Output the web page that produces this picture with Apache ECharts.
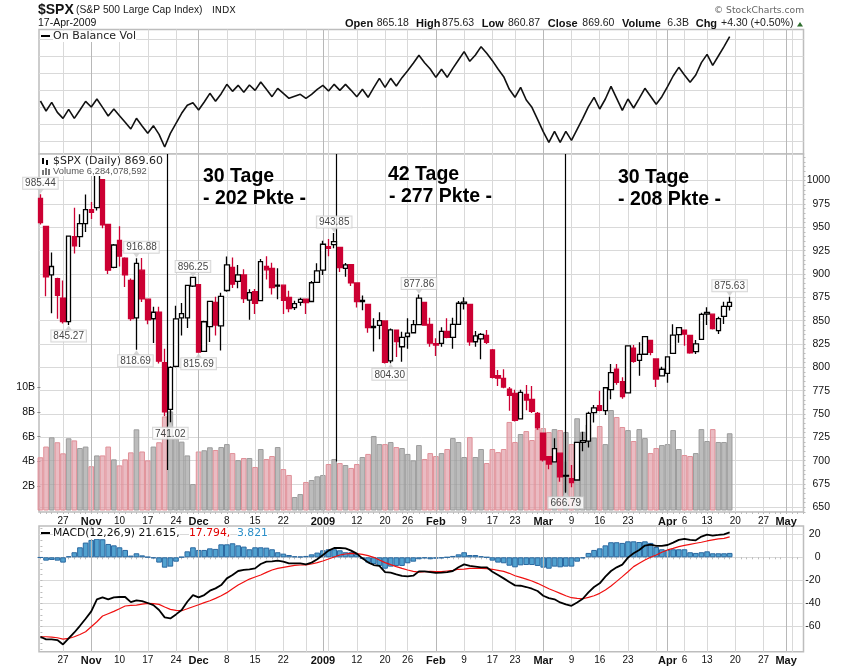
<!DOCTYPE html>
<html><head><meta charset="utf-8">
<script src="https://cdn.jsdelivr.net/npm/echarts@6/dist/echarts.min.js"></script>
<style>html,body{margin:0;padding:0;background:#fff}#c{width:850px;height:668px}</style>
</head><body><div id="c"></div>
<script>
const opens=[981,951,899,895,874,849,940,940,954,969,971,1001,953,907,936,917,893,853,904,873,852,859,805,755,801,853,853,887,888.6,817,843.6,869.5,844.4,882.3,907,892,899,872,881,871.5,908,906,886.9,888,875,864,869.5,873,870.5,891,904,929.2,931.5,928.5,906,909.9,890.4,870.3,867.3,842.6,845,849.6,806.8,839.7,822,833,837,845.7,869.5,846,823.9,825.7,838.5,832,846,868.2,867.5,827.4,830.5,834.3,818.6,791,788,776.5,772,744.7,771,765.5,750.7,729.6,704.4,698.6,708,684.3,680.8,679.3,719.6,721,751.5,759,753.5,776,797.9,784.6,772.6,820.6,807.5,814,828.7,809,790.9,793.6,815,835.1,839.7,834.1,816.8,830,856.9,856.9,839.2,854.6,865.18];
const closes=[955,897,908,877,849,940.5,930,954,969,966,1005.7,952.5,904,931,919,899,852.3,911.3,873.3,850.75,859,806.6,752.4,800,851.8,857.4,887.7,896.24,816.2,848.8,870.7,845.2,876,909.7,889,899,873.6,880,868.6,913.2,904.4,885.3,887.9,871.6,863,868.2,872.8,869.4,890.6,903.3,931.8,927.5,934.7,906.7,909.7,890.4,870.3,871.8,842.6,843.7,850.1,805.2,840.2,827.5,832,836.6,845.7,874.1,845.1,825.9,825.4,838.5,832.2,845.9,868.6,869.9,827.2,833.7,835.2,826.8,789.2,788.4,778.9,770,743.3,773.1,764.9,752.8,735.1,700.8,696.3,712.9,682.6,683.4,676.5,719.6,721.4,750.7,756.6,753.9,778.1,794.4,784,768.5,822.9,806.3,813.9,832.9,815.9,787.5,797.9,811.1,834.4,842.5,835.5,815.6,825.2,856.6,858.7,841.5,852.1,865.3,869.6];
const lows=[953,876,858,852,847,845.27,922,929,945,959,968,949,900,906,908,886,850,818.69,870,846,826,804,747.8,741.02,800,834,842,886,815.69,817,827,834,818,881,885,884.6,869,851,857,871,894,878,873,857,859,861.4,866,857,870,891,899,919,927.5,902,897,887,864,861,837,817,830,804,804.3,811,806,820,837,845,844.6,822,812,822,831,820,846,862,823,822,808.6,825,788,780,777.5,753.5,742,744,754,751,733,699,690.7,698,677.4,666.79,671.4,679,710,714,741,753,749,765.7,781.4,766.4,772,805,791,814,813,779,790.5,783.5,814.5,826.4,823,814.5,814.3,829.5,845.3,840.5,835.7,846.4,860.87];
const highs=[985.44,951,923,896,893,941,971,964,985,977,1007.5,1001,953,932,951,918,895,916.88,917,873,865,865,820,801,866,869,888,896.25,889,850,871,875.6,880,918.6,917.5,909.6,905,883.6,884,916,919,912,906,888.5,882,871.4,874.6,873.5,892.5,911.4,935.6,937.5,943.85,929,911.7,910.7,891,877,868,852.5,859,850,841.7,840,838,852.5,850.7,877.86,870,853,831,843,852.5,853,871,875,868,839,836.7,840,819.5,797,798,779,776,776,781,780,752,730,705,724,708.5,699,695.4,720,731,752.4,759.6,775,778.6,803.5,803.5,789.3,823.6,824,826.8,833.5,829,809.6,800.6,811.4,846,843,840.5,834.6,829.3,858.5,864.3,857,854.2,870.3,875.63];
const volumes=[4.33,5.2,5.95,5.55,4.65,5.87,5.7,5.08,5.2,3.6,4.48,4.48,5.2,4.16,3.67,4.16,4.73,6.6,4.8,4.08,5.2,5.55,7.65,8.06,5.87,5.6,4.48,2.15,4.8,4.9,5.14,4.92,5.16,5.4,4.67,4.1,4.27,4.27,3.54,5.0,4.19,4.43,5.16,3.37,2.89,1.1,1.34,2.32,2.48,2.78,2.89,3.78,4.19,3.86,3.7,3.46,3.78,4.35,4.6,6.06,5.4,5.4,5.57,5.16,5.08,4.6,4.08,5.32,4.19,4.67,4.43,4.67,5.0,5.89,5.57,4.35,5.97,4.35,5.0,3.86,5.0,4.75,5.0,7.2,5.57,6.22,6.46,5.73,6.62,6.7,6.38,6.62,6.54,6.38,5.4,7.5,6.4,7.0,5.93,6.87,5.4,8.17,7.6,6.79,6.54,5.65,6.62,5.89,4.67,5.08,5.32,5.4,6.54,5.0,4.51,4.43,4.67,6.62,5.65,6.62,5.57,5.57,6.28];
const obv=[197,167,193,163,145,172,145,170,196,179,203,178,152,173,153,133,113,145,122,100,123,97,59,100,130,160,184,192,170,194,220,196,219,247,226,244,223,245,229,254,232,210,235,220,205,211,217,205,217,232,244,227,247,229,247,229,210,232,208,237,265,238,265,242,267,288,310,334,312,293,268,292,268,295,320,345,316,335,360,340,318,293,270,232,208,238,200,178,142,105,73,106,73,106,79,112,145,180,208,173,203,241,205,169,203,176,205,235,211,187,210,240,272,298,275,253,275,312,337,304,332,360,390];
const macd=[-69,-71.3,-71.3,-71.9,-75.7,-70.5,-65.3,-59.5,-53.4,-47,-36.5,-34.8,-36.5,-34.8,-34.5,-34.5,-38.9,-37.4,-38,-39.7,-41.5,-45.8,-52.2,-53.1,-49.6,-45.8,-38.6,-32.8,-34.8,-32.8,-29,-27,-24.1,-18.3,-15.4,-11.9,-11,-10.4,-9.6,-5.8,-3.8,-3.5,-2.9,-3.8,-5.2,-5.2,-5.2,-6.1,-4.6,-1.7,2,5.8,8.1,8.1,7.8,5.8,3.2,-0.9,-4.4,-6.7,-7.5,-12.8,-13.3,-14.8,-16.2,-16.5,-16,-12.2,-12.2,-12.8,-13.6,-13.3,-12.8,-11.9,-8.7,-6.1,-7.5,-8.1,-8.7,-8.7,-12.5,-15.4,-18.3,-21.5,-24.4,-24.7,-25.8,-27.3,-29.3,-33.4,-35.4,-36.5,-39.2,-40.9,-42.1,-39.2,-36,-30.5,-25.8,-22.6,-16.8,-11.9,-8.7,-6.4,-0.3,3.5,6.4,10.2,11,9.9,9.9,10.7,12.8,15.1,16,15.1,14.8,18,19.7,18.9,19.4,20,21.6];
const signal=[-69,-69,-69.3,-69.9,-71.1,-70.5,-69,-67,-64.7,-60.3,-56,-51,-49,-47,-44.7,-42.3,-41.8,-41.5,-40.6,-40,-40.3,-40.9,-43.2,-45.2,-46.1,-46.4,-44.7,-42.9,-41.2,-39.4,-37.7,-35.7,-33.4,-30.7,-27.3,-24.1,-21.5,-18.9,-17.1,-15.4,-13.1,-11,-9.6,-8.7,-7.8,-7,-6.7,-6.7,-5.8,-4.6,-3.2,-1.5,0.3,2,2.9,3.5,3.2,2.6,1.5,0,-2.3,-4.6,-6.4,-8.1,-9.6,-11,-12.2,-12.8,-12.5,-12.2,-12.5,-12.5,-11.9,-11.3,-10.4,-10.2,-9.6,-9.6,-9.6,-9.9,-10.4,-11.3,-12.2,-13.9,-16,-17.4,-18.9,-20.6,-22.6,-24.9,-27.3,-29.3,-31.3,-33.4,-35.1,-35.7,-36,-34.8,-33.4,-31.3,-28.4,-24.9,-20.9,-16.8,-12.5,-8.1,-5.2,-2.3,0,2,4.4,6.4,7.8,9.3,10.4,11.3,12.2,13.1,14.2,15.1,16,16.5,17.8];
const hist=[-0.3,-2.9,-2.3,-2.9,-4.6,0.9,4.4,8.7,12.8,15.1,16.2,15.7,11.6,10.4,8.7,6.4,1.5,3.5,1.7,0.3,-0.9,-4.6,-9,-8.1,-3.8,0.3,5.2,8.7,6.4,6.4,7.8,7.3,11.3,11.3,12.2,10.4,9.3,7,8.7,8.7,8.4,7,4.4,3.2,2,0.9,0.6,1.2,2.6,4.1,6.1,7,7,6.1,4.4,4.4,2.9,-1.5,-4.6,-5.8,-7.5,-9.9,-8.1,-7.5,-7.5,-5.2,-3.8,-1.7,-0.9,-1.7,-1.2,-0.9,0,1.2,2.6,4.4,2,2,0.9,0,-2.9,-4.6,-5.2,-7.3,-8.7,-7,-6.7,-6.7,-7.5,-9,-9.9,-8.1,-8.7,-8.1,-8.1,-3.8,-0.9,3.8,6.4,7.8,10.4,13.1,13.1,12.5,13.9,13.9,13.3,13.9,12.5,9,7,6.4,7,7,7,4.4,3.8,4.4,5.2,3.5,3.5,3.5,3.821];
const tickIndex=[4,9,14,19,24,28,33,38,43,50,56,61,65,70,75,80,84,89,94,99,104,111,114,118,123,128,132];
const tickText=['27','Nov','10','17','24','Dec','8','15','22','2009','12','20','26','Feb','9','17','23','Mar','9','16','23','Apr','6','13','20','27','May'];
const gridOnlyIndex=[47,51,109,133];
const monthIndex=[9,28,50,70,89,111,132];
const priceTicks=[650,675,700,725,750,775,800,825,850,875,900,925,950,975,1000];
const volumeTicks=[2,4,6,8,10];
const macdTicks=[-60,-40,-20,0,20];
const obvGrid=[75,126,177,229,280,331,382];
const pinned=[[0,985.44,'top',0],[5,845.27,'bottom',0],[17,916.88,'top',5],[17,818.69,'bottom',-1],[27,896.25,'top',0],[23,741.02,'bottom',0],[28,815.69,'bottom',0],[52,943.85,'top',0],[62,804.30,'bottom',-1],[67,877.86,'top',0],[93,666.79,'bottom',0],[122,875.63,'top',0]];
const divider=[[22.46,690],[52.44,699],[92.9,665]];
const redHollow=[70], blackDoji=[93];

const RED='#cc0033', SANS='"Liberation Sans",Arial,sans-serif', DEJA='"DejaVu Sans",sans-serif';
const XMIN=-0.25, XMAX=135.07;
const gridTop=[29.5,154,526], gridH=[124.5,358,125.7];
const grids=gridTop.map((t,i)=>({left:39,width:764.5,top:t,height:gridH[i],show:true,backgroundColor:'#fff',borderColor:'#bdbdbd',borderWidth:1.5,z:0}));
const allTicks=tickIndex.concat(gridOnlyIndex).sort((a,b)=>a-b);
const lightLine={show:true,lineStyle:{color:'#d9d9d9',width:1}};
const labelMap={};tickIndex.forEach((v,i)=>labelMap[v]=tickText[i]);
const dailyTicks=[];for(let i=0;i<=135;i++)dailyTicks.push(i);
function mainX(g,labels){return {type:'value',gridIndex:g,min:XMIN,max:XMAX,position:'bottom',axisLine:{show:false},
  axisTick:{show:false,customValues:allTicks},splitLine:lightLine,
  axisLabel:{show:labels,customValues:tickIndex,margin:4,fontFamily:SANS,fontSize:10,color:'#111',hideOverlap:false,showMinLabel:true,showMaxLabel:true,
    formatter:v=>monthIndex.includes(v)?'{b|'+labelMap[v]+'}':labelMap[v],rich:{b:{fontWeight:'bold',fontSize:11,fontFamily:SANS,color:'#111'}}}};}
function minorX(g){return {type:'value',gridIndex:g,min:XMIN,max:XMAX,position:'bottom',axisLine:{show:false},splitLine:{show:false},axisLabel:{show:false},
  axisTick:{show:true,inside:false,length:2,customValues:dailyTicks,lineStyle:{color:'#bbb'}}};}
function hLine(vals,extra){return Object.assign({type:'value',splitLine:lightLine,axisLine:{show:false},axisTick:{show:false,customValues:vals},scale:false},extra);}
const minorPrice=[],minorMacd=[];for(let v=645;v<=1025;v+=5)minorPrice.push(v);for(let v=-80;v<=25;v+=5)minorMacd.push(v);
function minorY(g,min,max,vals){return {type:'value',gridIndex:g,min,max,position:'right',splitLine:{show:false},axisLabel:{show:false},axisLine:{show:false},axisTick:{show:true,length:2,customValues:vals,lineStyle:{color:'#bbb'}}};}

const candleData=opens.map((o,i)=>{const it={value:[i,o,closes[i],lows[i],highs[i]]};
  if(redHollow.includes(i))it.itemStyle={color:'#fff',color0:'#fff',borderColor:RED,borderColor0:RED};
  if(blackDoji.includes(i))it.itemStyle={color:'#000',color0:'#000',borderColor:'#000',borderColor0:'#000'};
  return it;});
const volData=volumes.map((v,i)=>{const down=i===0||closes[i]<closes[i-1];
  return {value:[i,v],itemStyle:down?{color:'rgba(222,150,162,.65)',borderColor:'#e09098'}:{color:'rgba(160,160,160,.7)',borderColor:'#9c9c9c'}};});
const idx=a=>a.map((v,i)=>[i,v]);
const monthMark={silent:true,symbol:'none',animation:false,label:{show:false},lineStyle:{color:'#b8b8b8',width:1,type:'solid'},data:monthIndex.map(v=>({xAxis:v}))};
function txt(x,y,text,font,fill,extra){return {type:'text',x,y,z:50,silent:true,style:Object.assign({text,font,fill:fill||'#000',verticalAlign:'middle',align:'left'},extra||{})};}

const graphics=[
 txt(38,10,'$SPX','bold 14px '+SANS,'#111'),
 txt(76,10.5,'(S&P 500 Large Cap Index)','10.3px '+SANS,'#222'),
 txt(212,11,'INDX','9.5px '+DEJA,'#222'),
 txt(38,23.5,'17-Apr-2009','10.5px '+SANS,'#111'),
 txt(345,23.5,'Open','bold 11px '+SANS,'#111'),txt(376.7,23.5,'865.18','10.5px '+SANS,'#222'),
 txt(416,23.5,'High','bold 11px '+SANS,'#111'),txt(442,23.5,'875.63','10.5px '+SANS,'#222'),
 txt(481.7,23.5,'Low','bold 11px '+SANS,'#111'),txt(508,23.5,'860.87','10.5px '+SANS,'#222'),
 txt(547.7,23.5,'Close','bold 11px '+SANS,'#111'),txt(582.3,23.5,'869.60','10.5px '+SANS,'#222'),
 txt(622,23.5,'Volume','bold 11px '+SANS,'#111'),txt(667.3,23.5,'6.3B','10.5px '+SANS,'#222'),
 txt(695.7,23.5,'Chg','bold 11px '+SANS,'#111'),txt(721,23.5,'+4.30 (+0.50%)','10.5px '+SANS,'#222'),
 {type:'polygon',z:50,silent:true,shape:{points:[[797,26.5],[803,26.5],[800,22]]},style:{fill:'#2f6f2f'}},
 txt(714,10.5,'© StockCharts.com','9.2px '+DEJA,'#666'),
 {type:'rect',z:49,silent:true,shape:{x:41,y:35,width:9,height:2},style:{fill:'#000'}},
 txt(53,36.5,'On Balance Vol','11px '+DEJA,'#222',{backgroundColor:'#fff'}),
 txt(53,161.5,'$SPX (Daily) 869.60','11px '+DEJA,'#222',{backgroundColor:'#fff'}),
 txt(53,171.5,'Volume 6,284,078,592','9.4px '+SANS,'#555',{backgroundColor:'#fff'}),
 {type:'rect',z:49,silent:true,shape:{x:42,y:158,width:2,height:6},style:{fill:'#000'}},
 {type:'rect',z:49,silent:true,shape:{x:46,y:160,width:2,height:5},style:{fill:'#000'}},
 {type:'rect',z:49,silent:true,shape:{x:42,y:170,width:2,height:5},style:{fill:'#777'}},
 {type:'rect',z:49,silent:true,shape:{x:45,y:168,width:2,height:7},style:{fill:'#777'}},
 {type:'rect',z:49,silent:true,shape:{x:48,y:169,width:2,height:6},style:{fill:'#777'}},
 txt(203,177,'30 Tage','bold 19.5px '+SANS,'#000'),txt(203,199,'- 202 Pkte -','bold 19.5px '+SANS,'#000'),
 txt(388,175,'42 Tage','bold 19.5px '+SANS,'#000'),txt(389,197,'- 277 Pkte -','bold 19.5px '+SANS,'#000'),
 txt(618,178,'30 Tage','bold 19.5px '+SANS,'#000'),txt(618,200,'- 208 Pkte -','bold 19.5px '+SANS,'#000'),
 {type:'rect',z:49,silent:true,shape:{x:41,y:532,width:9,height:2},style:{fill:'#000'}},
 txt(53,533.5,'MACD(12,26,9) 21.615,','10.8px '+DEJA,'#111',{backgroundColor:'#fff'}),
 txt(189,533.5,'17.794,','10.8px '+DEJA,'#e00000',{backgroundColor:'#fff'}),
 txt(237,533.5,'3.821','10.8px '+DEJA,'#2b8fc9',{backgroundColor:'#fff'})
];

const chart=echarts.init(document.getElementById('c'),null,{renderer:'canvas'});
chart.setOption({
 animation:false,backgroundColor:'#fff',tooltip:{show:false},
 grid:grids,
 xAxis:[
  mainX(0,false),mainX(1,true),mainX(2,true),minorX(1),minorX(2)
 ],
 yAxis:[
  hLine(obvGrid,{gridIndex:0,min:38,max:411.5,axisLabel:{show:false}}),
  hLine(priceTicks,{gridIndex:1,min:645,max:1028.5,position:'right',axisLabel:{customValues:priceTicks,align:'right',margin:26.5,fontFamily:SANS,fontSize:10.5,color:'#111',formatter:v=>String(v)}}),
  {type:'value',gridIndex:1,min:-0.12,max:28.98,position:'left',splitLine:{show:false},axisLine:{show:false},
   axisTick:{show:true,length:3,customValues:volumeTicks,lineStyle:{color:'#888'}},
   axisLabel:{customValues:volumeTicks,margin:4,fontFamily:SANS,fontSize:10.5,color:'#111',formatter:v=>v+'B'}},
  hLine(macdTicks,{gridIndex:2,min:-82,max:27.2,position:'right',axisLabel:{customValues:macdTicks,align:'right',margin:17,fontFamily:SANS,fontSize:10.5,color:'#111'}}),
  minorY(1,645,1028.5,minorPrice),
  minorY(2,-82,27.2,minorMacd)
 ],
 series:[
  {type:'line',name:'On Balance Vol',xAxisIndex:0,yAxisIndex:0,data:idx(obv),symbol:'none',z:5,lineStyle:{color:'#111',width:1.6},markLine:monthMark},
  {type:'bar',name:'Volume',xAxisIndex:1,yAxisIndex:2,data:volData,barWidth:5.65,z:3,itemStyle:{borderWidth:1},markLine:monthMark},
  {type:'candlestick',name:'$SPX',xAxisIndex:1,yAxisIndex:1,data:candleData,barWidth:5,z:5,
   itemStyle:{color:'#fff',color0:RED,borderColor:'#000',borderColor0:RED,borderWidth:1.3},
   markLine:{silent:true,symbol:'none',animation:false,label:{show:false},lineStyle:{color:'#000',width:1.2,type:'solid'},
     data:divider.map(d=>[{coord:[d[0],1028.5]},{coord:[d[0],d[1]]}])}},
  {type:'scatter',name:'pins',xAxisIndex:1,yAxisIndex:1,z:8,clip:false,
   data:pinned.map(p=>({value:[p[0],p[1]],symbol:'triangle',symbolSize:[7,5],symbolRotate:p[2]==='top'?180:0,symbolOffset:[0,p[2]==='top'?-3:3],
     label:{show:true,position:p[2],distance:0,offset:[p[3],0],formatter:()=>p[1].toFixed(2),fontFamily:SANS,fontSize:10,color:'#111',backgroundColor:'#fff',borderColor:'#ccc',borderWidth:1,padding:[1,2,0,2]}})),
   itemStyle:{color:'#ccc'}},
  {type:'bar',name:'Hist',xAxisIndex:2,yAxisIndex:3,data:idx(hist),barWidth:5.65,z:3,itemStyle:{color:'#52a2d0',borderColor:'#2a68a0',borderWidth:1},markLine:monthMark},
  {type:'line',name:'Signal',xAxisIndex:2,yAxisIndex:3,data:idx(signal),symbol:'none',z:5,lineStyle:{color:'#f01010',width:1.2}},
  {type:'line',name:'MACD',xAxisIndex:2,yAxisIndex:3,data:idx(macd),symbol:'none',z:6,lineStyle:{color:'#000',width:1.8}}
 ],
 graphic:graphics
});
</script></body></html>
